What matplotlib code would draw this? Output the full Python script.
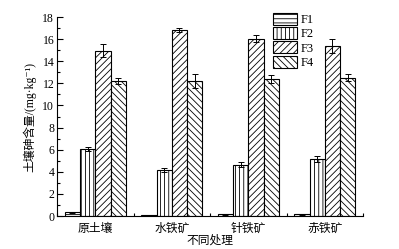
import matplotlib
matplotlib.use("Agg")
import matplotlib.pyplot as plt
import numpy as np
from matplotlib.ticker import MultipleLocator

plt.rcParams['font.family'] = ['Liberation Serif', 'Noto Sans CJK SC', 'DejaVu Serif', 'DejaVu Sans']
plt.rcParams['hatch.linewidth'] = 0.6

categories = ['原土壤', '水铁矿', '针铁矿', '赤铁矿']
series = ['F1', 'F2', 'F3', 'F4']
F1 = [0.33, 0.05, 0.15, 0.15]
F2 = [6.05, 4.15, 4.65, 5.15]
F3 = [14.95, 16.85, 16.05, 15.4]
F4 = [12.2, 12.2, 12.4, 12.5]
F1_err = [0.03, 0.02, 0.02, 0.02]
F2_err = [0.2, 0.2, 0.25, 0.3]
F3_err = [0.6, 0.2, 0.35, 0.65]
F4_err = [0.3, 0.65, 0.35, 0.3]
values = [F1, F2, F3, F4]
errors = [F1_err, F2_err, F3_err, F4_err]
hatches = ['----', '||||', '/////', '\\\\\\\\\\']

fig = plt.figure(figsize=(3.99, 2.49), dpi=100)
ax = fig.add_axes([0.143, 0.1325, 0.767, 0.7992])

x = np.arange(len(categories))
w = 0.2
for i, (vals, errs, h, name) in enumerate(zip(values, errors, hatches, series)):
    ax.bar(x + (i - 1.5) * w, vals, w, yerr=errs, color='white', edgecolor='black',
           linewidth=0.8, hatch=h, label=name,
           error_kw=dict(ecolor='black', elinewidth=0.7, capsize=2.5, capthick=0.7))

ax.set_xlim(-0.5, 3.5)
ax.set_ylim(0, 18)
ax.set_xticks(x)
ax.set_xticklabels(categories, fontsize=8.5)
ax.xaxis.set_minor_locator(MultipleLocator(0.5))
ax.yaxis.set_major_locator(MultipleLocator(2))
ax.yaxis.set_minor_locator(MultipleLocator(1))
ax.tick_params(axis='both', which='both', direction='in', labelsize=8.5)
ax.tick_params(axis='y', which='major', length=4, width=0.8, pad=2)
ax.tick_params(axis='y', which='minor', length=2, width=0.8)
ax.tick_params(axis='x', which='major', length=0, pad=5)
ax.tick_params(axis='x', which='minor', length=2.5, width=0.8)
for s in ['top', 'right']:
    ax.spines[s].set_visible(False)
for s in ['left', 'bottom']:
    ax.spines[s].set_linewidth(0.8)

ax.set_ylabel('土壤砷含量/(mg·kg⁻¹)', fontsize=8.5, labelpad=4)
ax.set_xlabel('不同处理', fontsize=8.5, labelpad=0)

ax.legend(loc='upper left', bbox_to_anchor=(0.677, 1.065), frameon=False, fontsize=9,
          handlelength=1.95, handleheight=1.1, labelspacing=0.08, handletextpad=0.3,
          borderpad=0.2)

fig.savefig('out.png', dpi=100)
